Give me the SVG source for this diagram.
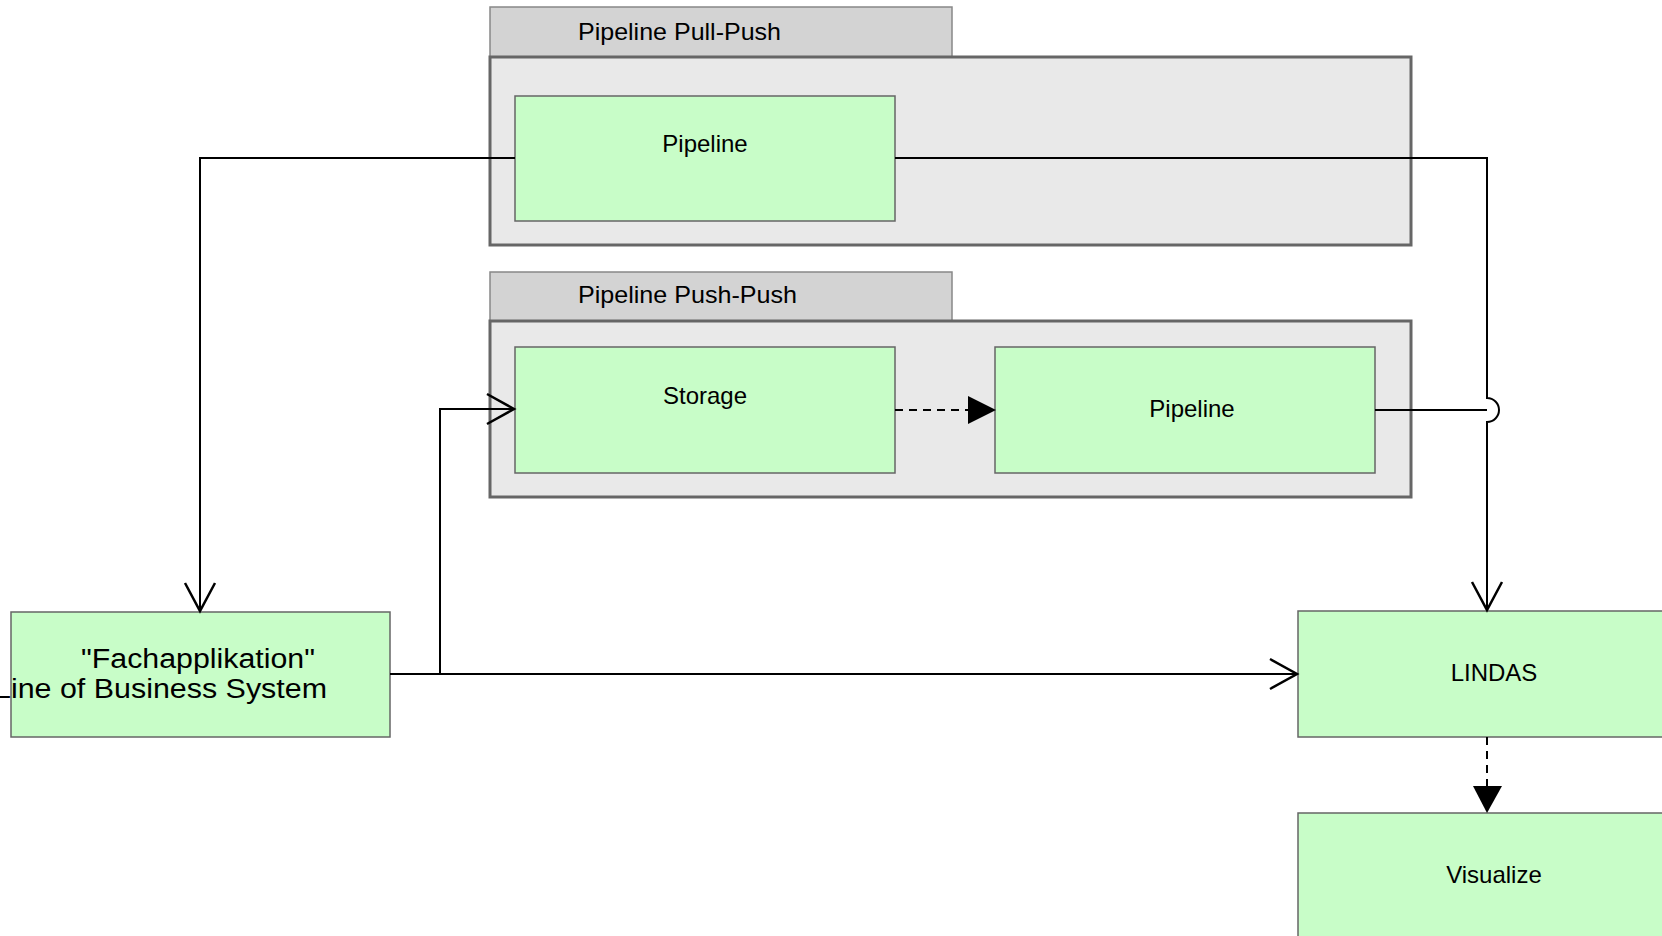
<svg xmlns="http://www.w3.org/2000/svg" width="1662" height="936" viewBox="0 0 1662 936">
<style>
.frame{fill:#e9e9e9;stroke:#666;stroke-width:3}
.tab{fill:#d3d3d3;stroke:#888;stroke-width:1.5}
.node{fill:#c8fdc8;stroke:#666;stroke-width:1.5}
.lbl{font-family:"Liberation Sans",Arial,sans-serif;font-size:24px;fill:#000;text-anchor:middle}
.ttl{font-family:"Liberation Sans",Arial,sans-serif;font-size:24px;fill:#000}
.big{font-family:"Liberation Sans",Arial,sans-serif;font-size:27px;fill:#000}
.c{fill:none;stroke:#000;stroke-width:2}
.d{fill:none;stroke:#000;stroke-width:2;stroke-dasharray:8 6}
.open{fill:none;stroke:#000;stroke-width:2.5}
.solid{fill:#000;stroke:none}
</style>
<rect width="1662" height="936" fill="#fff"/>
<g id="frame-pull-push">
<rect class="tab" x="490" y="7" width="462" height="50"/>
<rect class="frame" x="490" y="57" width="921" height="188"/>
<text class="ttl" x="578" y="40" textLength="203" lengthAdjust="spacingAndGlyphs">Pipeline Pull-Push</text>
</g>
<g id="frame-push-push">
<rect class="tab" x="490" y="272" width="462" height="49"/>
<rect class="frame" x="490" y="321" width="921" height="176"/>
<text class="ttl" x="578" y="303" textLength="219" lengthAdjust="spacingAndGlyphs">Pipeline Push-Push</text>
</g>
<g id="pipeline1">
<rect class="node" x="515" y="96" width="380" height="125"/>
<text class="lbl" x="705" y="152">Pipeline</text>
</g>
<g id="storage">
<rect class="node" x="515" y="347" width="380" height="126"/>
<text class="lbl" x="705" y="404">Storage</text>
</g>
<g id="pipeline2">
<rect class="node" x="995" y="347" width="380" height="126"/>
<text class="lbl" x="1192" y="417">Pipeline</text>
</g>
<g id="fachapplikation">
<rect class="node" x="11" y="612" width="379" height="125"/>
<text class="big" x="81" y="668" textLength="234" lengthAdjust="spacingAndGlyphs">"Fachapplikation"</text>
<text class="big" x="-6" y="698" textLength="333" lengthAdjust="spacingAndGlyphs">Line of Business System</text>
</g>
<g id="lindas">
<rect class="node" x="1298" y="611" width="380" height="126"/>
<text class="lbl" x="1494" y="681">LINDAS</text>
</g>
<g id="visualize">
<rect class="node" x="1298" y="813" width="380" height="126"/>
<text class="lbl" x="1494" y="883">Visualize</text>
</g>
<g id="connectors">
<path class="c" d="M515,158 H200 V611"/>
<path class="open" d="M185,583 L200,611 L215,583"/>
<path class="c" d="M895,158 H1487 V398 A12,12 0 0 1 1487,422 V611"/>
<path class="c" d="M1375,410 H1487"/>
<path class="open" d="M1472,582 L1487,610 L1502,582"/>
<path class="c" d="M390,674 H440 V409 H514"/>
<path class="open" d="M487,394 L514,409 L487,424"/>
<path class="c" d="M440,674 H1297"/>
<path class="open" d="M1270,659 L1297,674 L1270,689"/>
<path class="d" d="M895,410 H968"/>
<path class="solid" d="M968,396 L996,410 L968,424 Z"/>
<path class="d" d="M1487,737 V787"/>
<path class="solid" d="M1473,786 L1502,786 L1487,813 Z"/>
</g>
</svg>
